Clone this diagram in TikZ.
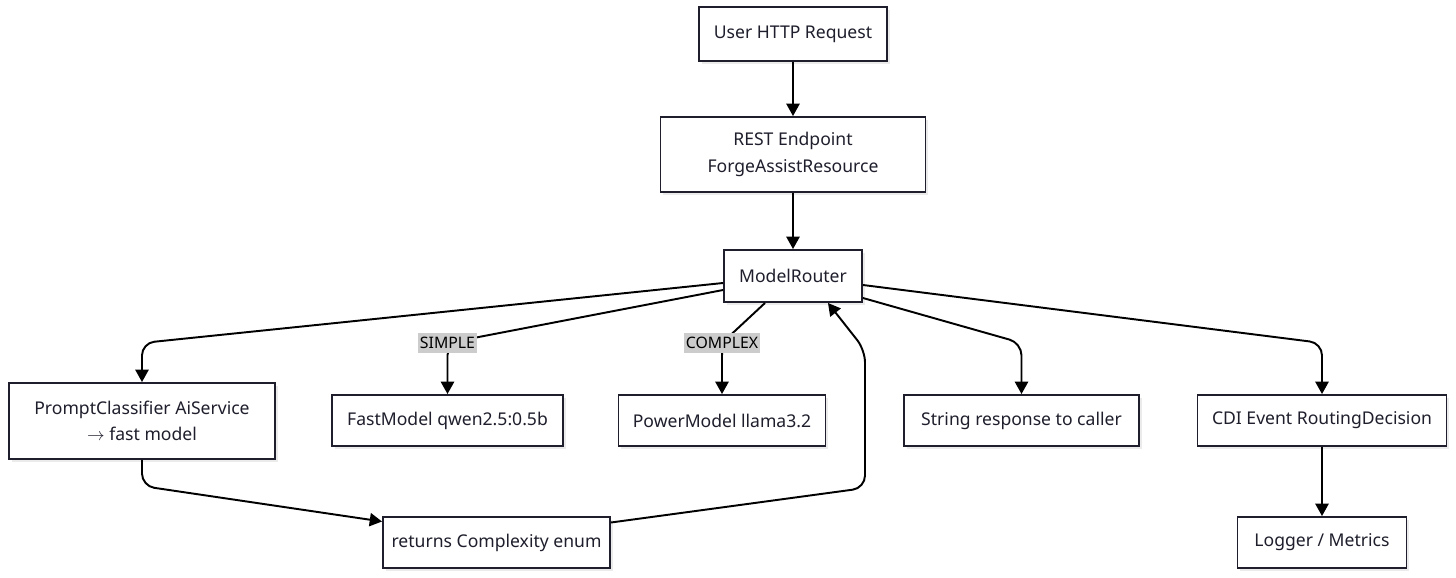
\documentclass[tikz,border=0pt]{standalone}
\usepackage{fontspec}
\setmainfont{Noto Sans}
\usepackage{xcolor}
\usepackage{tikz}
\usetikzlibrary{arrows.meta, shadows}

\definecolor{inkline}{HTML}{1E1E2C}
\definecolor{taggray}{HTML}{CCCCCC}

\begin{document}
\begin{tikzpicture}[font=\fontsize{10}{12}\selectfont, text=inkline,
  box/.style={draw=inkline, line width=1.1pt, fill=white, align=center,
    inner sep=0pt, drop shadow={shadow xshift=1.5pt, shadow yshift=-1.5pt,
    fill=black, opacity=0.08}},
  link/.style={line width=1.1pt, black, rounded corners=7pt,
    -{Triangle[length=7pt, width=7.5pt]}},
  tag/.style={fill=taggray, inner xsep=1pt, inner ysep=2.5pt, sharp corners,
    font=\fontsize{9}{11}\selectfont}]
  \useasboundingbox (0,0) rectangle (29.12,-11.54);
  % request path
  \node[box, minimum width=3.76cm, minimum height=1.08cm] (user) at (15.86,-0.68) {User HTTP Request};
  \node[box, minimum width=5.3cm, minimum height=1.5cm] (rest) at (15.86,-3.09) {REST Endpoint\\[3pt]ForgeAssistResource};
  \node[box, minimum width=2.76cm, minimum height=1.04cm] (router) at (15.86,-5.52) {ModelRouter};
  % second row
  \node[box, minimum width=5.32cm, minimum height=1.52cm] (classifier) at (2.84,-8.42) {PromptClassifier AiService\\[3pt]$\rightarrow$ fast model};
  \node[box, minimum width=4.62cm, minimum height=1.02cm] (fast) at (8.95,-8.41) {FastModel qwen2.5:0.5b};
  \node[box, minimum width=4.14cm, minimum height=1.02cm] (power) at (14.44,-8.41) {PowerModel llama3.2};
  \node[box, minimum width=4.7cm, minimum height=1.02cm] (reply) at (20.43,-8.41) {String response to caller};
  \node[box, minimum width=4.98cm, minimum height=1.02cm] (event) at (26.44,-8.41) {CDI Event RoutingDecision};
  % bottom row
  \node[box, minimum width=4.54cm, minimum height=1.02cm] (enum) at (9.93,-10.85) {returns Complexity enum};
  \node[box, minimum width=3.38cm, minimum height=1.02cm] (logger) at (26.44,-10.85) {Logger / Metrics};
  % straight links
  \draw[link] (user) -- (rest);
  \draw[link] (rest) -- (router);
  \draw[link] (event) -- (logger);
  % router fan-out
  \draw[link] ([yshift=-0.14cm]router.west) -- (2.84,-6.86) -- (classifier.north);
  \draw[link] ([yshift=-0.28cm]router.west) -- (8.95,-6.86) node[tag] {SIMPLE} -- (fast.north);
  \draw[link] ([xshift=-0.56cm]router.south) -- (14.44,-6.86) node[tag] {COMPLEX} -- (power.north);
  \draw[link] ([yshift=-0.44cm]router.east) -- (20.43,-6.86) -- (reply.north);
  \draw[link] ([yshift=-0.18cm]router.east) -- (26.44,-6.86) -- (event.north);
  % classifier loop
  \draw[link] (classifier.south) -- (2.84,-9.72) -- ([yshift=0.42cm]enum.west);
  \draw[link] ([yshift=0.4cm]enum.east) -- (17.3,-9.76) -- (17.3,-7.0) -- ([xshift=-0.7cm]router.south east);
\end{tikzpicture}
\end{document}
